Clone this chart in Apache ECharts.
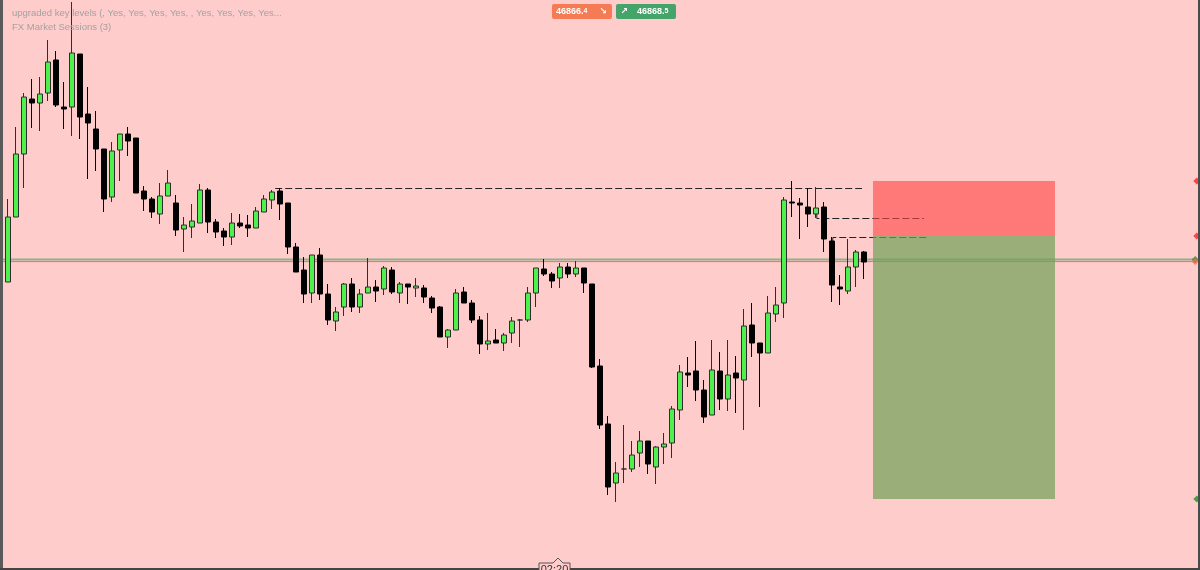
<!DOCTYPE html>
<html><head><meta charset="utf-8">
<script src="https://cdn.jsdelivr.net/npm/echarts@6/dist/echarts.min.js"></script>
<style>html,body{margin:0;padding:0;background:#ffcccc;overflow:hidden}#c{width:1200px;height:570px}</style>
</head><body><div id="c"></div>
<script>
// ---- candle data (price units) ----
const opens = [46846,46911,46974,47029,47025,47035,47068,47021,47021,47074,
47014,46999,46979,46931,46978,46994,46990,46937,46929,46914,
46932,46925,46899,46901,46905,46938,46906,46897,46891,46905,
46903,46900,46916,46928,46937,46925,46881,46858,46835,46873,
46834,46807,46821,46844,46821,46835,46841,46839,46858,46835,
46844,46840,46840,46830,46821,46791,46798,46836,46825,46808,
46784,46788,46785,46795,46808,46808,46835,46859,46854,46850,
46861,46854,46860,46844,46762,46704,46645,46659,46659,46675,
46687,46661,46681,46685,46718,46755,46757,46738,46713,46757,
46729,46755,46748,46803,46785,46775,46814,46825,46926,46925,
46921,46914,46921,46887,46841,46837,46861,46876];
const closes = [46911,46974,47031,47025,47034,47066,47023,47019,47075,47011,
47005,46979,46929,46977,46994,46987,46935,46929,46916,46932,
46945,46898,46903,46907,46938,46906,46896,46891,46905,46902,
46900,46917,46929,46936,46924,46881,46856,46834,46873,46834,
46808,46816,46844,46821,46834,46841,46837,46860,46836,46844,
46841,46842,46831,46820,46791,46798,46835,46825,46808,46784,
46787,46785,46793,46807,46808,46835,46860,46854,46847,46861,
46854,46860,46845,46761,46703,46641,46655,46659,46673,46687,
46664,46681,46684,46719,46756,46753,46738,46711,46758,46729,
46753,46750,46802,46785,46775,46815,46823,46928,46925,46923,
46914,46920,46889,46843,46839,46861,46876,46866];
const lows = [46846,46911,46940,47000,46997,47027,47021,46999,46992,46989,
46949,46957,46916,46926,46947,46972,46935,46917,46910,46904,
46932,46892,46876,46890,46905,46895,46890,46882,46883,46900,
46891,46900,46916,46919,46908,46874,46856,46825,46825,46828,
46803,46797,46812,46816,46815,46835,46826,46833,46834,46825,
46824,46831,46825,46815,46791,46780,46798,46825,46805,46774,
46778,46785,46777,46785,46781,46806,46821,46852,46840,46840,
46850,46851,46835,46760,46699,46633,46626,46645,46656,46661,
46654,46644,46664,46670,46708,46741,46727,46705,46713,46718,
46717,46715,46698,46771,46721,46775,46806,46810,46911,46889,
46901,46910,46876,46826,46823,46834,46841,46849];
const highs = [46929,47001,47035,47049,47051,47088,47077,47046,47126,47074,
47041,47017,46979,46986,46994,47001,46990,46942,46931,46945,
46958,46933,46911,46924,46944,46940,46909,46900,46915,46914,
46913,46921,46933,46938,46940,46925,46885,46871,46873,46880,
46844,46821,46845,46850,46839,46870,46848,46862,46861,46846,
46844,46850,46843,46832,46822,46799,46839,46841,46828,46812,
46815,46799,46795,46811,46809,46841,46860,46869,46856,46865,
46865,46867,46860,46844,46769,46712,46666,46703,46687,46697,
46687,46682,46695,46722,46763,46771,46787,46748,46788,46776,
46788,46772,46819,46825,46785,46832,46841,46931,46947,46930,
46940,46941,46926,46891,46853,46889,46878,46877];
const futureSlots = 41;            // empty bars to the right of the last candle
const bidPrice = 46866.4;
const askPrice = 46868.5;
const bidMain = '46866.', bidSmall = '4';
const askMain = '46868.', askSmall = '5';
// key levels: start bar, end bar, price, price the step starts from
const levelStart = [33.4, 101.1, 103.1];
const levelEnd   = [106.75, 114.5, 115];
const levelPrice = [46939.5, 46909.5, 46890.5];
const levelStep  = [null, 46914, 46887];
// short position tool
const posStartBar = 108.1, posEndBar = 130.9;
const posStop = 46947, posEntry = 46892, posTarget = 46629;
const headerLines = ['upgraded key levels (, Yes, Yes, Yes, Yes, , Yes, Yes, Yes, Yes...', 'FX Market Sessions (3)'];
const timeLabel = '02:20';

const categories = [];
for (let i = 0; i < opens.length + futureSlots; i++) categories.push(String(i + 1));
const candles = opens.map((o, i) => [o, closes[i], lows[i], highs[i]]);

const YMIN = 46558, YMAX = 47128;
const edgeBar = 148.6;

const series = [
  {
    type: 'custom', xAxisIndex: 1, yAxisIndex: 0, z: 4, silent: true,
    data: [[posStartBar, posEndBar, posStop, posEntry, 0], [posStartBar, posEndBar, posEntry, posTarget, 1]],
    renderItem: function (params, api) {
      const p1 = api.coord([api.value(0), api.value(2)]);
      const p2 = api.coord([api.value(1), api.value(3)]);
      const fills = ['rgba(255,70,70,0.62)', 'rgba(111,161,87,0.7)'];
      return { type: 'rect', shape: { x: Math.round(p1[0]), y: Math.round(p1[1]), width: Math.round(p2[0] - p1[0]), height: Math.round(p2[1] - p1[1]) },
        style: { fill: fills[api.value(4)] } };
    }
  },
  {
    type: 'candlestick', xAxisIndex: 0, yAxisIndex: 0, z: 3, barWidth: 6,
    data: candles,
    itemStyle: { color: '#4df04d', color0: '#000000', borderColor: '#2e2e2e', borderColor0: '#000000', borderWidth: 1 }
  },
  {
    type: 'line', xAxisIndex: 1, yAxisIndex: 0, z: 2, symbol: 'none', silent: true,
    data: [[-0.6, askPrice], [148.4, askPrice]],
    lineStyle: { color: '#93ad8b', width: 2 }
  },
  {
    type: 'line', xAxisIndex: 1, yAxisIndex: 0, z: 2, symbol: 'none', silent: true,
    data: [[-0.6, bidPrice], [148.4, bidPrice]],
    lineStyle: { color: '#f07050', width: 1 }
  }
];
levelPrice.forEach((p, i) => {
  const pts = [];
  if (levelStep[i] !== null) pts.push([levelStart[i], levelStep[i]]);
  pts.push([levelStart[i], p]);
  pts.push([levelEnd[i], p]);
  series.push({
    type: 'line', xAxisIndex: 1, yAxisIndex: 0, z: 3, symbol: 'none', silent: true,
    data: pts, lineStyle: { color: '#222222', width: 1, type: [7, 3] }
  });
});
series.push({
  type: 'scatter', xAxisIndex: 1, yAxisIndex: 0, z: 6, clip: false, silent: true,
  symbol: 'diamond', symbolSize: 7,
  data: [
    { value: [edgeBar, posStop], itemStyle: { color: '#ff2020' } },
    { value: [edgeBar, posEntry], itemStyle: { color: '#ff2020' } },
    { value: [edgeBar, posTarget], itemStyle: { color: '#119922' } },
    { value: [edgeBar - 0.2, askPrice], itemStyle: { color: '#2e8b40' } },
    { value: [edgeBar - 0.2, bidPrice], itemStyle: { color: '#f26a3c' } }
  ]
});

const FONT = '"Liberation Sans", Arial, sans-serif';
const chart = echarts.init(document.getElementById('c'), null, { renderer: 'canvas' });
chart.setOption({
  animation: false,
  backgroundColor: '#ffcccc',
  grid: { left: 4, right: 4, top: 0, bottom: 0, containLabel: false },
  xAxis: [
    { type: 'category', data: categories, boundaryGap: true, show: false },
    { type: 'value', min: -0.5, max: 148.5, show: false }
  ],
  yAxis: [{ type: 'value', min: YMIN, max: YMAX, show: false, splitLine: { show: false } }],
  series: series,
  graphic: [
    { type: 'rect', left: 0, top: 0, shape: { width: 3, height: 570 }, style: { fill: '#5a5a5a' }, z: 100 },
    { type: 'rect', left: 1198, top: 0, shape: { width: 2, height: 570 }, style: { fill: '#4a4a4a' }, z: 100 },
    { type: 'rect', left: 0, top: 568, shape: { width: 1200, height: 2 }, style: { fill: '#444444' }, z: 100 },
    { type: 'polygon', shape: { points: [[539, 563], [553, 563], [558, 558], [563, 563], [570, 563], [570, 572], [539, 572]] },
      style: { fill: '#ffcccc', stroke: '#555555', lineWidth: 1 }, z: 101 },
    { type: 'text', x: 554.5, y: 570, style: { text: timeLabel, fill: '#333', font: '11px ' + FONT, textAlign: 'center', textVerticalAlign: 'middle' }, z: 102 },
    { type: 'text', x: 12, y: 13, style: { text: headerLines[0], fill: '#a2a2a2', font: '9.5px ' + FONT, textVerticalAlign: 'middle' }, z: 100 },
    { type: 'text', x: 12, y: 27, style: { text: headerLines[1], fill: '#a2a2a2', font: '9.5px ' + FONT, textVerticalAlign: 'middle' }, z: 100 },
    { type: 'rect', left: 552, top: 4, shape: { width: 60, height: 15, r: 2 }, style: { fill: '#f47b54' }, z: 100 },
    { type: 'text', x: 556, y: 11.5, style: { text: '{a|' + bidMain + '}{b|' + bidSmall + '}', fill: '#fff', textVerticalAlign: 'middle',
      rich: { a: { font: 'bold 9px ' + FONT, fill: '#fff' }, b: { font: 'bold 7px ' + FONT, fill: '#fff' } } }, z: 101 },
    { type: 'text', x: 603, y: 11.5, style: { text: '\u2198', fill: '#fff', font: 'bold 9px "DejaVu Sans"', textAlign: 'center', textVerticalAlign: 'middle' }, z: 101 },
    { type: 'rect', left: 616, top: 4, shape: { width: 60, height: 15, r: 2 }, style: { fill: '#45a469' }, z: 100 },
    { type: 'text', x: 624, y: 11.5, style: { text: '\u2197', fill: '#fff', font: 'bold 9px "DejaVu Sans"', textAlign: 'center', textVerticalAlign: 'middle' }, z: 101 },
    { type: 'text', x: 637, y: 11.5, style: { text: '{a|' + askMain + '}{b|' + askSmall + '}', fill: '#fff', textVerticalAlign: 'middle',
      rich: { a: { font: 'bold 9px ' + FONT, fill: '#fff' }, b: { font: 'bold 7px ' + FONT, fill: '#fff' } } }, z: 101 }
  ]
});
</script></body></html>
